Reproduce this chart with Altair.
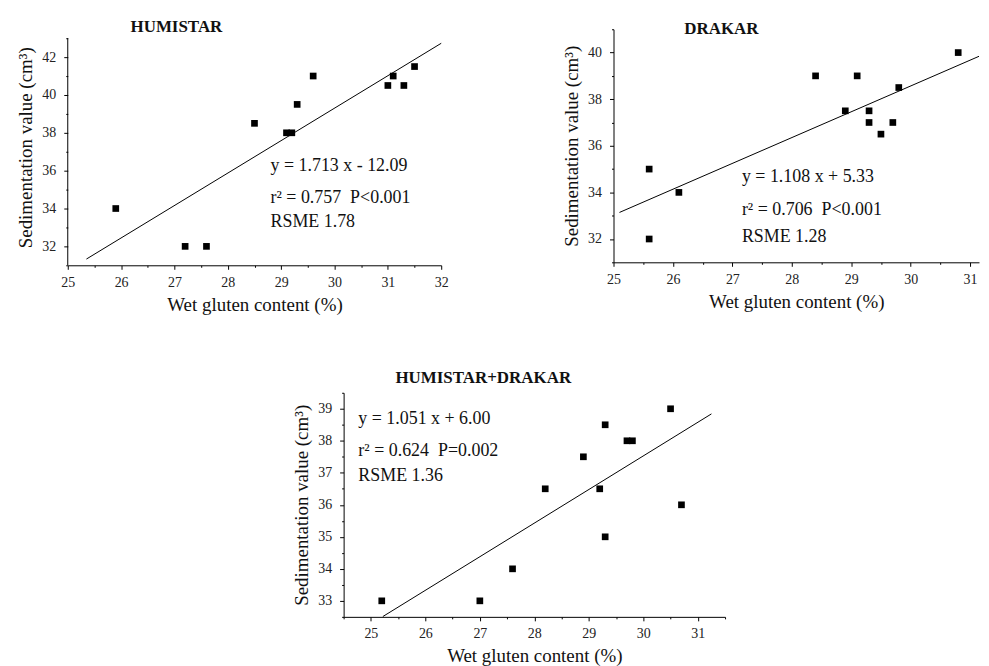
import altair as alt
import pandas as pd

# ---- data ----
hum_x = [25.9, 27.2, 27.6, 28.5, 29.1, 29.2, 29.3, 29.6, 31.0, 31.1, 31.3, 31.5]
hum_y = [34, 32, 32, 38.5, 38, 38, 39.5, 41, 40.5, 41, 40.5, 41.5]
hum_line_x = [25.35, 32.0]
hum_line_y = [31.33, 42.73]
hum_text = ["y = 1.713 x - 12.09", "r² = 0.757\u00a0 P<0.001", "RSME 1.78"]
hum_text_x = [28.8, 28.8, 28.8]
hum_text_y = [36.25, 34.56, 33.3]

dra_x = [25.6, 25.6, 26.1, 28.4, 28.9, 29.1, 29.3, 29.3, 29.5, 29.7, 29.8, 30.8]
dra_y = [35, 32, 34, 39, 37.5, 39, 37.5, 37, 36.5, 37, 38.5, 40]
dra_line_x = [25.1, 31.15]
dra_line_y = [33.14, 39.84]
dra_text = ["y = 1.108 x + 5.33", "r² = 0.706\u00a0 P<0.001", "RSME 1.28"]
dra_text_x = [27.16, 27.16, 27.16]
dra_text_y = [34.68, 33.26, 32.09]

com_x = [25.2, 27.0, 27.6, 28.2, 28.9, 29.2, 29.3, 29.3, 29.7, 29.8, 30.5, 30.7]
com_y = [33, 33, 34, 36.5, 37.5, 36.5, 38.5, 35, 38, 38, 39, 36]
com_line_x = [25.22, 31.25]
com_line_y = [32.51, 38.84]
com_text = ["y = 1.051 x + 6.00", "r² = 0.624\u00a0 P=0.002", "RSME 1.36"]
com_text_x = [24.77, 24.77, 24.77]
com_text_y = [38.68, 37.69, 36.91]

SERIF = "Liberation Serif"
XT = "Wet gluten content (%)"
YT = "Sedimentation value (cm³)"


def frange(a, b, step):
    out = []
    v = a
    while v <= b + 1e-9:
        out.append(round(v, 2))
        v += step
    return out


def make_axis(vals, maj, title, lpad, domain=True):
    test = f"abs(datum.value/{maj} - round(datum.value/{maj})) < 0.001"
    return alt.Axis(
        values=vals, tickCount=200,
        labelExpr=f"{test} ? format(datum.value, 'd') : ''",
        tickSize=4, labelPadding=lpad, domain=domain,
        tickDash={"condition": {"test": f"!({test})", "value": [2, 10]}, "value": [4, 0]},
        title=title, grid=False, labelOverlap=False, labelFlush=False,
    )


def panel(title, dx, toff, px, py, lx, ly, tx, tyv, tt, xdom, ydom, xmaj, ymaj, w, h, yaxis_top=None):
    pts = pd.DataFrame({"x": px, "y": py})
    ln = pd.DataFrame({"x": lx, "y": ly})
    tx_df = pd.DataFrame({"x": tx, "y": tyv, "t": tt})
    xvals = frange(xdom[0], xdom[1], xmaj / 2)
    ytop = ydom[1] if yaxis_top is None else yaxis_top
    yvals = frange(ydom[0], ytop, ymaj / 2)
    xs = alt.Scale(domain=xdom, nice=False, zero=False)
    ys = alt.Scale(domain=ydom, nice=False, zero=False)
    p = alt.Chart(pts).mark_square(size=45, color="black", opacity=1).encode(
        x=alt.X("x:Q", scale=xs, axis=make_axis(xvals, xmaj, XT, 6)),
        y=alt.Y("y:Q", scale=ys, axis=make_axis(yvals, ymaj, YT, 8, domain=yaxis_top is None)),
    )
    l = alt.Chart(ln).mark_line(color="black", strokeWidth=1).encode(
        x=alt.X("x:Q", scale=xs, title=XT), y=alt.Y("y:Q", scale=ys, title=YT)
    )
    t = alt.Chart(tx_df).mark_text(align="left", baseline="middle", fontSize=18, font=SERIF, color="#111").encode(
        x=alt.X("x:Q", scale=xs, title=XT), y=alt.Y("y:Q", scale=ys, title=YT), text="t:N"
    )
    layers = [p, l, t]
    if yaxis_top is not None:
        dom = pd.DataFrame({"x": [xdom[0]], "y": [ydom[0]], "y2": [yaxis_top]})
        layers.append(
            alt.Chart(dom).mark_rule(color="black", strokeWidth=1).encode(
                x=alt.X("x:Q", scale=xs, title=XT), y=alt.Y("y:Q", scale=ys, title=YT), y2="y2:Q"
            )
        )
    return alt.layer(*layers).properties(
        width=w, height=h,
        title=alt.TitleParams(title, anchor="start", frame="group", dx=dx, fontSize=17,
                              font=SERIF, fontWeight="bold", offset=toff, color="#111"),
    )


c1 = panel("HUMISTAR", 63, -7, hum_x, hum_y, hum_line_x, hum_line_y, hum_text_x, hum_text_y, hum_text,
           [25, 32], [31, 43.47], 1, 2, 375, 237, yaxis_top=43)
c2 = panel("DRAKAR", 71, -16, dra_x, dra_y, dra_line_x, dra_line_y, dra_text_x, dra_text_y, dra_text,
           [25, 31.15], [31, 41], 1, 2, 367, 234)
c3 = panel("HUMISTAR+DRAKAR", 52, -1, com_x, com_y, com_line_x, com_line_y, com_text_x, com_text_y, com_text,
           [24.5, 31.5], [32.5, 39.5], 1, 1, 383, 225)

SPACER_W = 226
spacer = alt.Chart(pd.DataFrame({"a": [0]})).mark_rule(opacity=0).encode(
    x=alt.value(0), x2=alt.value(SPACER_W), y=alt.value(0)
).properties(width=SPACER_W, height=10)

top = alt.hconcat(c1, c2, spacing=115)
bottom = alt.hconcat(spacer, c3, spacing=0)
chart = alt.vconcat(top, bottom, spacing=55).properties(
    padding={"left": 9, "top": 9, "right": 0, "bottom": 0}
).configure_view(stroke=None).configure_axis(
    domainColor="black", tickColor="black", labelColor="#222", titleColor="#111",
    labelFont=SERIF, titleFont=SERIF, labelFontSize=14, titleFontSize=19,
    titleFontWeight="normal", domainWidth=1, tickWidth=1, titlePadding=6,
)

chart.save("out.html", embed_options={"renderer": "svg", "actions": False})
